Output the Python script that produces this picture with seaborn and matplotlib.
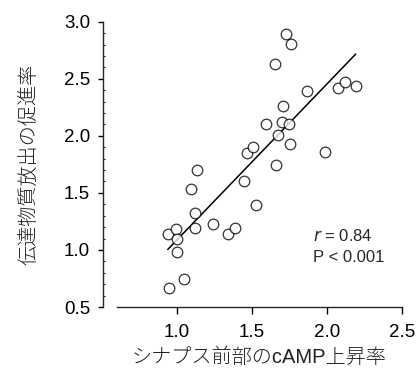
import numpy as np
import pandas as pd
import seaborn as sns
from matplotlib import pyplot as plt
from matplotlib.ticker import MultipleLocator

sns.set_style('ticks')
plt.rcParams['font.family'] = ['Liberation Sans', 'Noto Sans CJK JP']

# シナプス前部のcAMP上昇率 / 伝達物質放出の促進率
camp = [1.727, 1.76, 1.657, 1.871, 2.075, 2.12, 2.193, 1.709, 1.597, 1.704,
        1.747, 1.678, 1.757, 1.469, 1.511, 1.989, 1.664, 1.133, 1.095, 1.449,
        1.531, 1.124, 1.124, 1.242, 1.342, 1.389, 0.94, 0.993, 1.00, 1.00,
        1.051, 0.949]
release = [2.89, 2.805, 2.63, 2.39, 2.42, 2.475, 2.435, 2.26, 2.10, 2.12,
           2.10, 2.01, 1.93, 1.85, 1.905, 1.86, 1.745, 1.70, 1.535, 1.605,
           1.395, 1.32, 1.195, 1.23, 1.14, 1.19, 1.14, 1.18, 1.10, 0.98,
           0.745, 0.67]
xticks = [1.0, 1.5, 2.0, 2.5]
yticks = [0.5, 1.0, 1.5, 2.0, 2.5, 3.0]

df = pd.DataFrame({'camp': camp, 'release': release})

fig = plt.figure(figsize=(4.17, 3.83), dpi=100)
ax = fig.add_axes([0.2799, 0.1984, 0.6834, 0.7449])

sns.regplot(data=df, x='camp', y='release', ci=None, ax=ax,
            scatter_kws=dict(s=58, facecolors='white', edgecolors='black', linewidths=0.9, zorder=3),
            line_kws=dict(color='black', lw=1.1))

ax.set_xlim(0.6, 2.5)
ax.set_ylim(0.5, 3.0)
ax.set_xticks(xticks)
ax.set_yticks(yticks)
ax.set_xticklabels([f'{v:.1f}' for v in xticks])
ax.set_yticklabels([f'{v:.1f}' for v in yticks])
ax.yaxis.set_minor_locator(MultipleLocator(0.1))

sns.despine(ax=ax)
ax.spines['left'].set_position(('outward', 9.7))
ax.spines['left'].set_linewidth(1.0)
ax.spines['bottom'].set_linewidth(1.0)
ax.tick_params(axis='x', length=5, width=1.0, pad=7, labelsize=13.5, colors='black')
ax.tick_params(axis='y', which='major', length=3.5, width=1.0, pad=6, labelsize=13.5, colors='black')
ax.tick_params(axis='y', which='minor', direction='in', length=1.5, width=0.8)

ax.set_xlabel('シナプス前部のcAMP上昇率', fontsize=14.5, fontweight='light', color='#222222', labelpad=5)
ax.set_ylabel('伝達物質放出の促進率', fontsize=14.5, fontweight='light', color='#222222', labelpad=18)

ax.text(1.91, 1.12, r'$\it{r}$ = 0.84', fontsize=12, va='center')
ax.text(1.91, 0.935, 'P < 0.001', fontsize=12, va='center')

plt.savefig('out.png', dpi=100)
